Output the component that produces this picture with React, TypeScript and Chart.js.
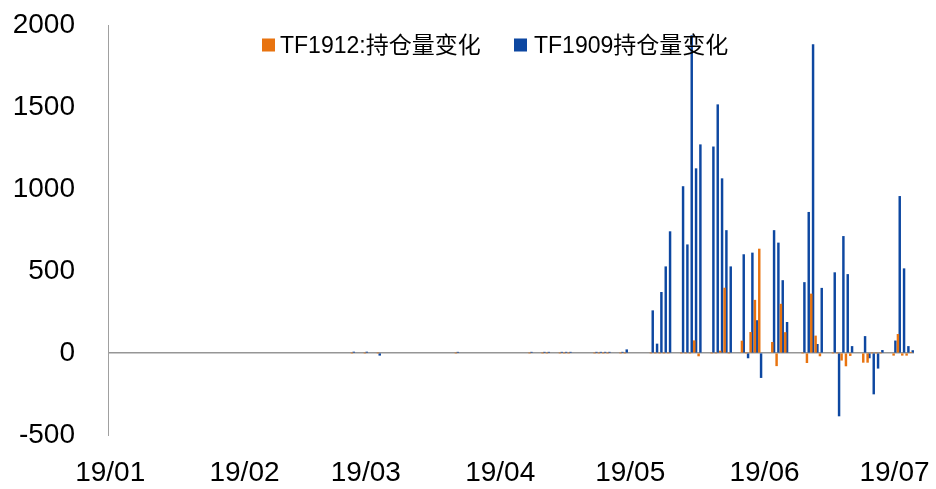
import { useEffect, useRef } from 'react';
import { Chart, registerables } from 'chart.js';

Chart.register(...registerables);

// ---- data ----
const TRADE_DATES = [
  '02-26', '03-01', '03-04', '03-22',
  '04-08', '04-11', '04-12', '04-15', '04-16', '04-17',
  '04-23', '04-24', '04-25', '04-26', '04-29', '04-30',
  '05-06', '05-07', '05-08', '05-09', '05-10',
  '05-13', '05-14', '05-15', '05-16', '05-17',
  '05-20', '05-21', '05-22', '05-23', '05-24',
  '05-27', '05-28', '05-29', '05-30', '05-31',
  '06-03', '06-04', '06-05', '06-06',
  '06-10', '06-11', '06-12', '06-13', '06-14',
  '06-17', '06-18', '06-19', '06-20', '06-21',
  '06-24', '06-25', '06-26', '06-27', '06-28',
  '07-01', '07-02', '07-03', '07-04', '07-05',
];

const TF1912_CHANGE = [
  0, 0, 0, 0,
  0, 0, 0, 0, 0, 0,
  0, 0, 0, 0, 0, 0,
  0, 0, 0, 0, 0,
  0, 0, 0, 75, -18,
  0, 0, 12, 396, 0,
  73, 0, 126, 322, 634,
  65, -78, 298, 125,
  0, -59, 360, 104, -18,
  0, 0, -44, -79, -16,
  -57, -57, 0, 0, 0,
  -14, 114, -14, -14, 4,
];

const TF1909_CHANGE = [
  6, 6, -14, 5,
  5, 5, 5, 5, 5, 5,
  5, 5, 5, 5, 5, 20,
  258, 55, 370, 526, 740,
  1015, 660, 1935, 1124, 1270,
  1257, 1514, 1063, 747, 526,
  600, -30, 610, 198, -150,
  747, 671, 442, 187,
  430, 858, 1880, 53, 395,
  490, -384, 711, 479, 40,
  101, -30, -250, -93, 16,
  74, 955, 514, 40, 15,
];

const MONTH_TICK_DATES = ['01-01', '02-01', '03-01', '04-01', '05-01', '06-01', '07-01'];
const MONTH_TICK_LABELS = ['19/01', '19/02', '19/03', '19/04', '19/05', '19/06', '19/07'];
const SERIES_NAMES = ['TF1912:持仓量变化', 'TF1909持仓量变化'];

const Y_MIN = -500;
const Y_MAX = 2000;
const Y_STEP = 500;
const X_DAYS = 186; // 2019-01-01 .. 2019-07-05 inclusive

// ---- styles ----
const ORANGE = '#E8730F';
const BLUE = '#0D47A1';
const AXIS_GRAY = '#A0A0A0';
const FONT = "'Liberation Sans', 'Noto Sans CJK SC', sans-serif";

const dayOf = (s: string) => {
  const [m, d] = s.split('-').map(Number);
  return Math.round((Date.UTC(2019, m - 1, d) - Date.UTC(2019, 0, 1)) / 86400000);
};

const legendPlugin = {
  id: 'floatLegend',
  afterDatasetsDraw(chart: any) {
    const ctx = chart.ctx as CanvasRenderingContext2D;
    ctx.save();
    ctx.font = `23px ${FONT}`;
    ctx.textBaseline = 'middle';
    ctx.textAlign = 'left';
    const items = [
      { box: 262, text: 280, color: ORANGE, label: SERIES_NAMES[0] },
      { box: 514, text: 534, color: BLUE, label: SERIES_NAMES[1] },
    ];
    for (const it of items) {
      ctx.fillStyle = it.color;
      ctx.fillRect(it.box, 38.5, 13, 13);
      ctx.fillStyle = '#000';
      ctx.fillText(it.label, it.text, 46.5);
    }
    ctx.restore();
  },
};

export default function App() {
  const ref = useRef<HTMLCanvasElement | null>(null);

  useEffect(() => {
    if (!ref.current) return;
    const tickValues = MONTH_TICK_DATES.map((s) => dayOf(s) + 0.5);
    const toPoints = (vals: number[]) =>
      TRADE_DATES.map((s, i) => ({ x: dayOf(s) + 0.5, y: vals[i] }));

    const chart = new Chart(ref.current, {
      type: 'bar',
      data: {
        datasets: [
          {
            label: SERIES_NAMES[0],
            data: toPoints(TF1912_CHANGE),
            backgroundColor: ORANGE,
            barThickness: 1.8,
          },
          {
            label: SERIES_NAMES[1],
            data: toPoints(TF1909_CHANGE),
            backgroundColor: BLUE,
            barThickness: 1.8,
          },
        ],
      },
      options: {
        animation: false,
        responsive: true,
        maintainAspectRatio: false,
        layout: { padding: { top: 25, right: 22, left: 0, bottom: 0 } },
        plugins: {
          legend: { display: false },
          tooltip: { enabled: false },
        },
        scales: {
          x: {
            type: 'linear',
            min: 0,
            max: X_DAYS,
            offset: false,
            grid: { display: false },
            border: { display: false },
            afterBuildTicks: (scale: any) => {
              scale.ticks = tickValues.map((value) => ({ value }));
            },
            afterFit: (scale: any) => {
              scale.height = 54;
              scale.paddingLeft = 0;
              scale.paddingRight = 0;
            },
            ticks: {
              autoSkip: false,
              maxRotation: 0,
              minRotation: 0,
              padding: 13,
              color: '#000',
              font: { family: FONT, size: 28 },
              callback: (_v: any, i: number) => MONTH_TICK_LABELS[i],
            },
          },
          y: {
            type: 'linear',
            min: Y_MIN,
            max: Y_MAX,
            grid: {
              drawTicks: false,
              color: (c: any) => (c.tick && c.tick.value === 0 ? '#969696' : 'rgba(0,0,0,0)'),
              lineWidth: (c: any) => (c.tick && c.tick.value === 0 ? 1.5 : 1),
            },
            border: { display: true, color: AXIS_GRAY, width: 1 },
            afterFit: (scale: any) => {
              scale.width = 108;
              scale.paddingTop = 0;
              scale.paddingBottom = 0;
            },
            ticks: {
              stepSize: Y_STEP,
              padding: 33,
              color: '#000',
              font: { family: FONT, size: 28 },
              callback: (v: any) => String(v),
            },
          },
        },
      },
      plugins: [legendPlugin],
    } as any);

    return () => chart.destroy();
  }, []);

  return (
    <div style={{ position: 'fixed', left: 0, top: 0, width: 936, height: 489, background: '#fff' }}>
      <canvas ref={ref} />
    </div>
  );
}
